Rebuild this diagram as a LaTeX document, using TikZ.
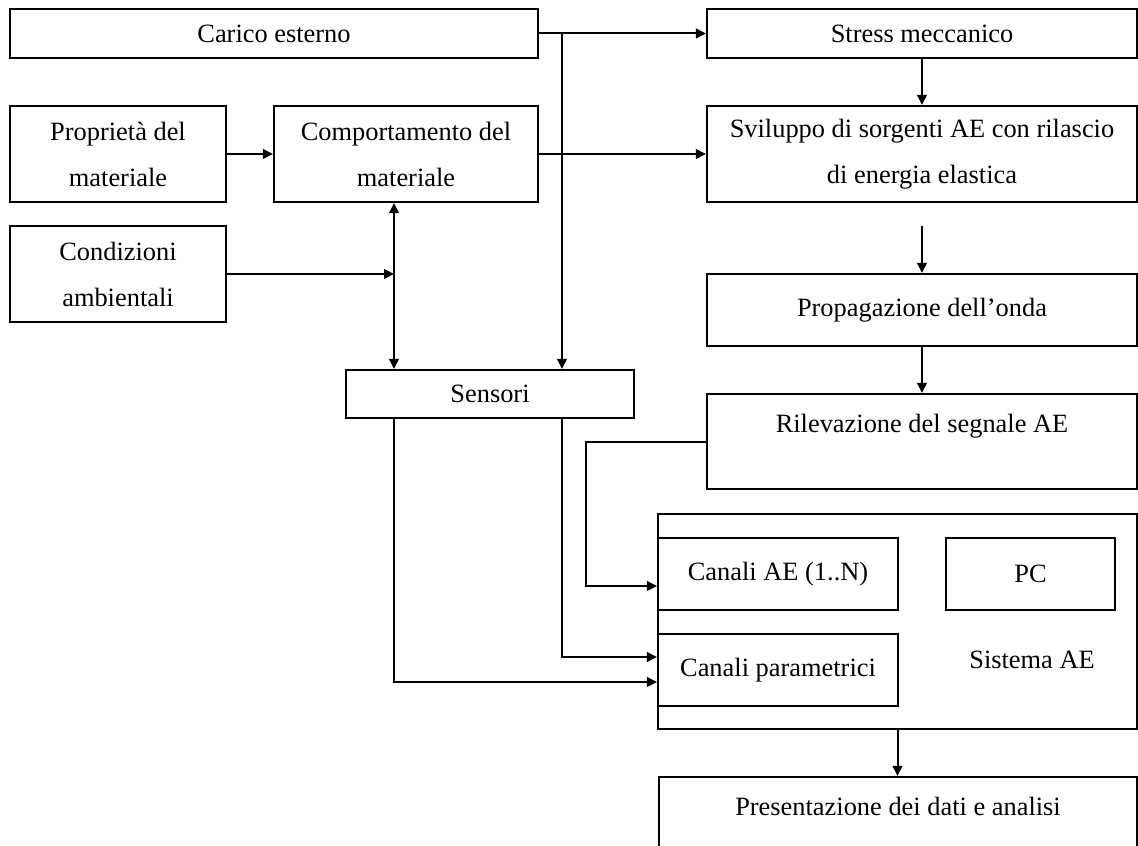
\documentclass[tikz,border=0pt]{standalone}
\usepackage{fontspec}
\setmainfont{Liberation Serif}
\usetikzlibrary{arrows.meta}

\begin{document}
\begin{tikzpicture}[x=0.5pt,y=-0.5pt,
	box/.style={draw,line width=1.1pt,inner sep=0pt,align=center,font=\fontsize{13.2}{23}\selectfont},
	arr/.style={line width=1pt,-{Triangle[length=5pt,width=4.8pt]}},
	darr/.style={line width=1pt,{Triangle[length=5pt,width=4.8pt]}-{Triangle[length=5pt,width=4.8pt]}}]
	\clip (0,0) rectangle (1138,845);
	\coordinate (j1) at (562,33.5);% carico line branch
	\coordinate (j2) at (394,274);% condizioni line branch
	\node[box,minimum width=264pt,minimum height=24.5pt] (carico) at (274,33.5) {Carico esterno};
	\node[box,minimum width=215pt,minimum height=24.5pt] (stress) at (922,33.5) {Stress meccanico};
	\node[box,minimum width=108pt,minimum height=48pt] (proprieta) at (118,154) {Proprietà del\\materiale};
	\node[box,minimum width=132pt,minimum height=48pt] (comport) at (406,154) {Comportamento del\\materiale};
	\node[box,minimum width=215pt,minimum height=48pt] (sviluppo) at (922,154) {Sviluppo di sorgenti AE con rilascio\\di energia elastica};
	\node[box,minimum width=108pt,minimum height=48pt] (condizioni) at (118,274) {Condizioni\\ambientali};
	\node[box,minimum width=215pt,minimum height=36pt] (propag) at (922,310) {Propagazione dell’onda};
	\node[box,minimum width=144pt,minimum height=24pt] (sensori) at (490,394) {Sensori};
	\node[box,minimum width=215pt,minimum height=47.5pt] (rilev) at (922,441.5) {Rilevazione del segnale AE\\[-5pt] \mbox{}};
	\node[box,minimum width=239.5pt,minimum height=107.5pt] (sistema) at (897.5,621.5) {};
	\node[box,minimum width=120pt,minimum height=36pt] (canaliae) at (778,574) {Canali AE (1..N)};
	\node[box,minimum width=84.5pt,minimum height=36pt] (pc) at (1030.5,574) {PC};
	\node[box,minimum width=120pt,minimum height=36pt] (canalipar) at (778,670) {Canali parametrici};
	\node[font=\fontsize{13.2}{23}\selectfont] (sistlabel) at (1032,660) {Sistema AE};
	\node[box,minimum width=239pt,minimum height=47.5pt] (present) at (898,824.5) {Presentazione dei dati e analisi\\[-5pt] \mbox{}};
	% connectors
	\draw[arr] (carico) -- (stress);
	\draw[arr] (j1) -- (j1 |- sensori.north);
	\draw[arr] (proprieta) -- (comport);
	\draw[arr] (comport) -- (sviluppo);
	\draw[arr] (stress) -- (sviluppo);
	\draw[arr] ([yshift=-11.5pt]sviluppo.south) -- (propag);
	\draw[arr] (propag) -- (rilev);
	\draw[arr] (condizioni) -- (condizioni -| j2);
	\draw[darr] (j2 |- comport.south) -- (j2 |- sensori.north);
	\draw[arr] (rilev.west) -| ([xshift=-35.5pt,yshift=-6pt]canaliae.west) -- ([yshift=-6pt]canaliae.west);
	\draw[arr] (j1 |- sensori.south) |- ([yshift=6.5pt]canalipar.west);
	\draw[arr] (j2 |- sensori.south) |- ([yshift=-6pt]canalipar.west);
	\draw[arr] (sistema.south) -- (sistema.south |- present.north);
\end{tikzpicture}
\end{document}
